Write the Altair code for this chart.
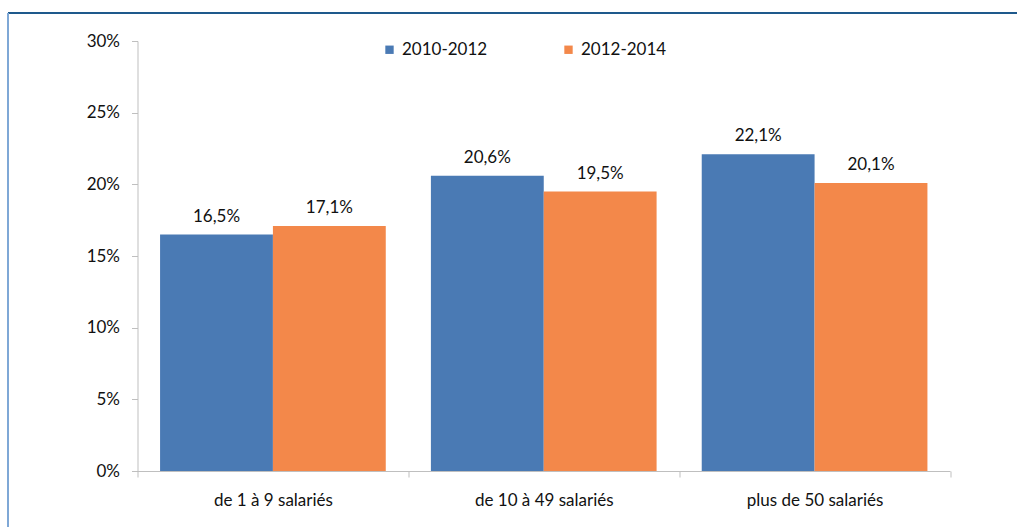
import altair as alt
import pandas as pd

categories = ["de 1 à 9 salariés", "de 10 à 49 salariés", "plus de 50 salariés"]
series = ["2010-2012", "2012-2014"]
values_2010_2012 = [16.5, 20.6, 22.1]
values_2012_2014 = [17.1, 19.5, 20.1]
y_ticks = [0, 5, 10, 15, 20, 25, 30]
colors = ["#4A7AB4", "#F3884A"]

rows = []
for c, a, b in zip(categories, values_2010_2012, values_2012_2014):
    rows.append({"cat": c, "serie": series[0], "val": a})
    rows.append({"cat": c, "serie": series[1], "val": b})
df = pd.DataFrame(rows)
df["lab"] = df["val"].map(lambda v: f"{v:.1f}".replace(".", ",") + "%")

FONT = "Lato"
FS = 17
TXT = "#111111"
W, H = 812.5, 430
PL, PT = 137.5, 41

x_enc = alt.X("cat:N", sort=categories, title=None,
              scale=alt.Scale(paddingInner=0, paddingOuter=0),
              axis=alt.Axis(labelAngle=0, tickBand="extent", domainColor="#BFBFBF",
                            tickColor="#BFBFBF", tickSize=6, labelPadding=15,
                            labelFont=FONT, labelFontSize=FS, labelColor=TXT,
                            labelBaseline="top"))
xoff = alt.XOffset("serie:N", sort=series,
                   scale=alt.Scale(paddingOuter=0.2, paddingInner=0))
y_enc = alt.Y("val:Q", title=None,
              scale=alt.Scale(domain=[0, 30], nice=False),
              axis=alt.Axis(values=y_ticks, labelExpr="datum.value + '%'", grid=False,
                            domainColor="#BFBFBF", tickColor="#BFBFBF", tickSize=6,
                            labelPadding=12, labelFont=FONT, labelFontSize=FS,
                            labelColor=TXT))

bars = alt.Chart(df).mark_bar().encode(
    x=x_enc, xOffset=xoff, y=y_enc,
    color=alt.Color("serie:N", sort=series, title=None,
                    scale=alt.Scale(domain=series, range=colors),
                    legend=alt.Legend(orient="none", legendX=243.5, legendY=0,
                                      direction="horizontal", symbolType="square",
                                      symbolSize=70, symbolStrokeWidth=0,
                                      labelFont=FONT, labelFontSize=FS,
                                      labelColor=TXT, columnPadding=72,
                                      labelOffset=4)),
)

texts = alt.Chart(df).mark_text(baseline="alphabetic", dy=-13, font=FONT,
                                fontSize=FS, color=TXT).encode(
    x=alt.X("cat:N", sort=categories), xOffset=xoff, y="val:Q", text="lab:N"
)

frame_top = alt.Chart(df).mark_rule(color="#1F5A8C", strokeWidth=1.5).encode(
    x=alt.value(8 - PL), x2=alt.value(1017 - PL), y=alt.value(13 - PT)
)
frame_left = alt.Chart(df).mark_rule(color="#7FA8D6", strokeWidth=2).encode(
    x=alt.value(8 - PL), y=alt.value(13 - PT), y2=alt.value(527 - PT)
)

chart = alt.layer(bars, texts, frame_top, frame_left).properties(
    width=W, height=H,
    autosize=alt.AutoSizeParams(type="none"),
    padding={"left": PL, "top": PT, "right": 1017 - PL - W, "bottom": 527 - PT - H},
    background="white",
).configure_view(stroke=None)

chart.save("out.html", embed_options={"renderer": "svg", "actions": False})
